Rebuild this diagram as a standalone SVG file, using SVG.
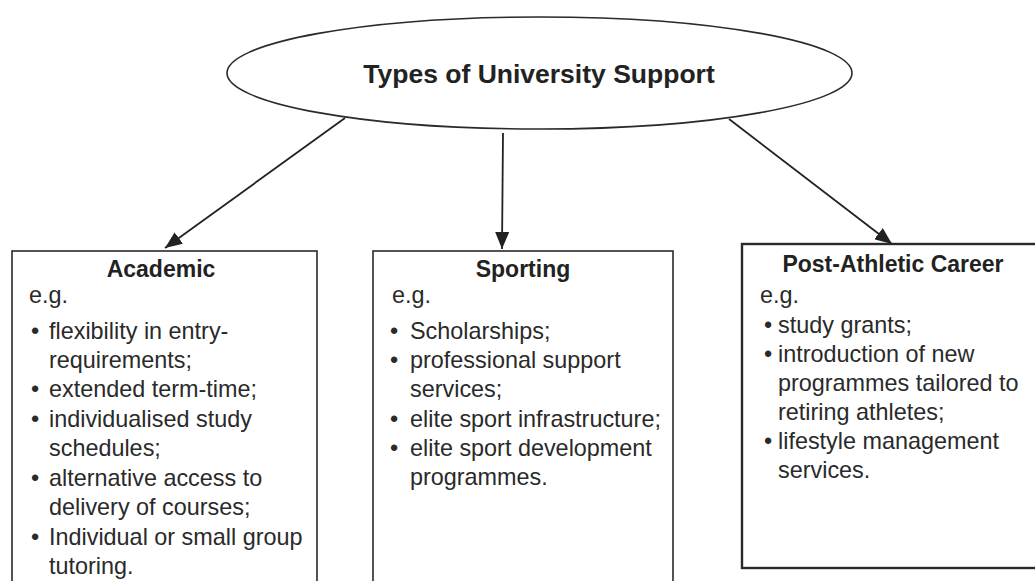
<svg xmlns="http://www.w3.org/2000/svg" width="1035" height="581" viewBox="0 0 1035 581">
<style>
.bg{fill:#fff}
.shape{fill:#fff;stroke:#2a2a2a;stroke-width:1.6}
.thick{stroke-width:2.4}
.title{font-family:"Liberation Sans",Arial,sans-serif;font-weight:bold;font-size:26.5px;fill:#222;text-anchor:middle}
.head{font-family:"Liberation Sans",Arial,sans-serif;font-weight:bold;font-size:23px;fill:#222;text-anchor:middle}
.body{font-family:"Liberation Sans",Arial,sans-serif;font-size:23.4px;fill:#2a2a2a}
.conn{stroke:#222;stroke-width:1.8;fill:none;marker-end:url(#ah)}
</style>
<defs>
<marker id="ah" markerUnits="userSpaceOnUse" markerWidth="18" markerHeight="14" refX="17" refY="7" orient="auto">
<path d="M0,0 L17,7 L0,14 z" fill="#222"/>
</marker>
</defs>
<rect class="bg" x="0" y="0" width="1035" height="581"/>
<g id="connectors">
<line class="conn" x1="345" y1="118" x2="165" y2="248"/>
<line class="conn" x1="503" y1="133" x2="502" y2="249"/>
<line class="conn" x1="729" y1="119" x2="892" y2="244"/>
</g>
<g id="root">
<ellipse class="shape" cx="539.5" cy="73" rx="312.5" ry="56"/>
<text class="title" x="539" y="83">Types of University Support</text>
</g>
<g id="academic">
<rect class="shape" x="12" y="251" width="305" height="345"/>
<text class="head" x="161" y="277">Academic</text>
<text class="body" x="29" y="303">e.g.</text>
<text class="body">
<tspan x="31" y="339">•</tspan><tspan x="49" y="339">flexibility in entry-</tspan>
<tspan x="49" y="368">requirements;</tspan>
<tspan x="31" y="397">•</tspan><tspan x="49" y="397">extended term-time;</tspan>
<tspan x="31" y="427">•</tspan><tspan x="49" y="427">individualised study</tspan>
<tspan x="49" y="456">schedules;</tspan>
<tspan x="31" y="486">•</tspan><tspan x="49" y="486">alternative access to</tspan>
<tspan x="49" y="515">delivery of courses;</tspan>
<tspan x="31" y="545">•</tspan><tspan x="49" y="545">Individual or small group</tspan>
<tspan x="49" y="574">tutoring.</tspan>
</text>
</g>
<g id="sporting">
<rect class="shape" x="373" y="251" width="300" height="345"/>
<text class="head" x="523" y="277">Sporting</text>
<text class="body" x="392" y="303">e.g.</text>
<text class="body">
<tspan x="390" y="339">•</tspan><tspan x="410" y="339">Scholarships;</tspan>
<tspan x="390" y="368">•</tspan><tspan x="410" y="368">professional support</tspan>
<tspan x="410" y="397">services;</tspan>
<tspan x="390" y="427">•</tspan><tspan x="410" y="427">elite sport infrastructure;</tspan>
<tspan x="390" y="456">•</tspan><tspan x="410" y="456">elite sport development</tspan>
<tspan x="410" y="485">programmes.</tspan>
</text>
</g>
<g id="post-athletic">
<rect class="shape thick" x="742" y="244" width="320" height="324"/>
<text class="head" x="893" y="272">Post-Athletic Career</text>
<text class="body" x="760" y="303">e.g.</text>
<text class="body">
<tspan x="764" y="333">•</tspan><tspan x="778" y="333">study grants;</tspan>
<tspan x="764" y="362">•</tspan><tspan x="778" y="362">introduction of new</tspan>
<tspan x="778" y="391">programmes tailored to</tspan>
<tspan x="778" y="420">retiring athletes;</tspan>
<tspan x="764" y="449">•</tspan><tspan x="778" y="449">lifestyle management</tspan>
<tspan x="778" y="478">services.</tspan>
</text>
</g>
</svg>
